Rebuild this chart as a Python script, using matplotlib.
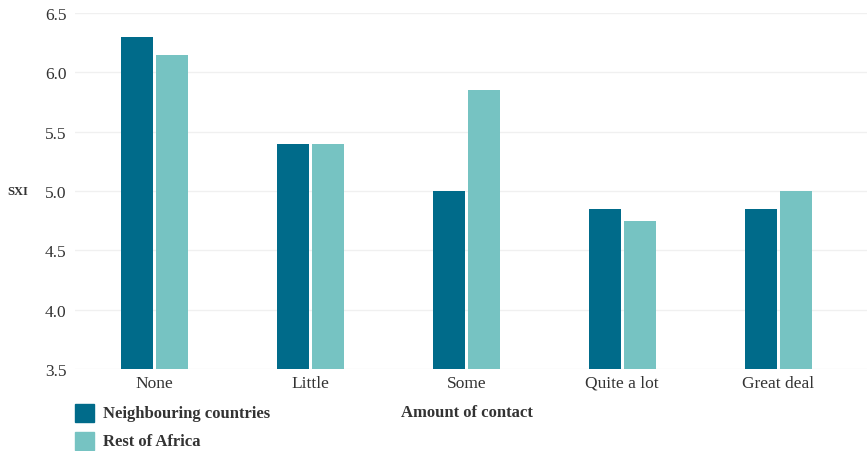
import numpy as np
import matplotlib
matplotlib.use("Agg")
import matplotlib.pyplot as plt
from matplotlib.patches import Rectangle

categories = ["None", "Little", "Some", "Quite a lot", "Great deal"]
neighbouring = [6.3, 5.4, 5.0, 4.85, 4.85]
rest_of_africa = [6.15, 5.4, 5.85, 4.75, 5.0]
series_names = ["Neighbouring countries", "Rest of Africa"]
yticks = [3.5, 4.0, 4.5, 5.0, 5.5, 6.0, 6.5]

dark = "#006b8a"
light = "#76c3c2"
txt = "#333333"

plt.rcParams['font.family'] = ['Liberation Serif', 'DejaVu Serif']

fig = plt.figure(figsize=(8.67, 4.52), dpi=100)
ax = fig.add_axes([75/867, 1 - 370/452, 1 - 75/867, 356/452])

x = np.arange(len(categories))
w = 0.205
off = 0.112
ax.bar(x - off, np.array(neighbouring) - 3.5, w, bottom=3.5, color=dark, zorder=3)
ax.bar(x + off, np.array(rest_of_africa) - 3.5, w, bottom=3.5, color=light, zorder=3)

ax.set_xlim(-0.51, 4.57)
ax.set_ylim(3.5, 6.5)
ax.set_yticks(yticks)
ax.set_yticklabels([f"{v:.1f}" for v in yticks])
ax.set_xticks(x)
ax.set_xticklabels(categories)
ax.grid(axis='y', color='#f0f0f0', linewidth=1, zorder=0)
for s in ax.spines.values():
    s.set_visible(False)
ax.tick_params(axis='both', length=0, labelsize=12.5, colors=txt)
ax.tick_params(axis='y', pad=6)
ax.tick_params(axis='x', pad=4)

fig.text(7/867, 1 - 192/452, "SXI", fontsize=9, color=txt, va='center', ha='left',
         fontweight='bold')

# legend
for i, (name, col) in enumerate(zip(series_names, [dark, light])):
    y0 = 1 - (423 + i * 28) / 452
    fig.patches.append(Rectangle((75/867, y0), 19/867, 18/452, color=col,
                                 transform=fig.transFigure, figure=fig))
    fig.text(103/867, y0 + 9/452, name, fontsize=12, fontweight='bold',
             color=txt, va='center', ha='left')

fig.text(467/867, 1 - 413/452, "Amount of contact", fontsize=12, fontweight='bold',
         color=txt, va='center', ha='center')

fig.savefig("out.png", dpi=100)
